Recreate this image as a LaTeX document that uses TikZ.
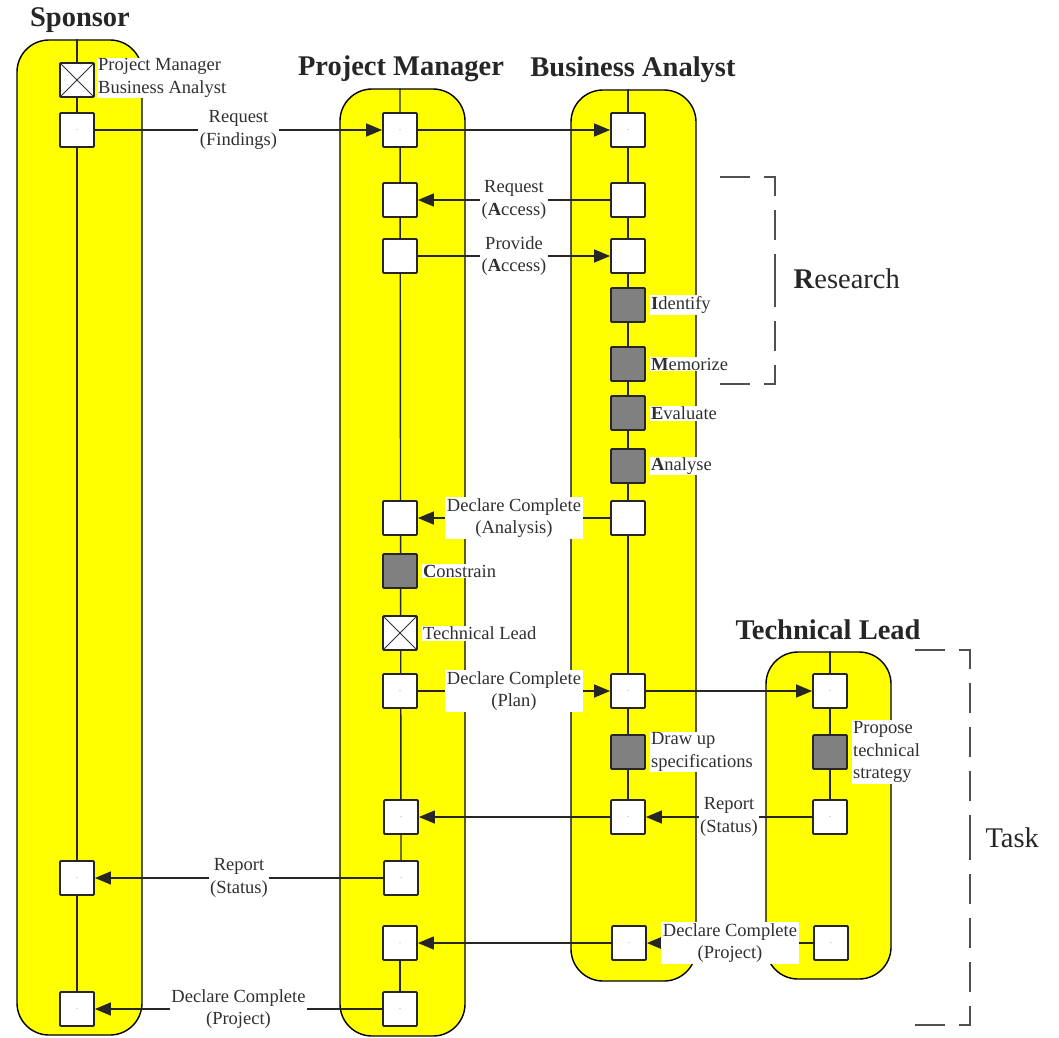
\documentclass[tikz,border=0pt]{standalone}
\usepackage{fontspec}
\setmainfont{Liberation Serif}
\usetikzlibrary{positioning,arrows.meta,backgrounds}
\definecolor{laneYellow}{HTML}{FFFF00}
\definecolor{stepGray}{HTML}{808080}
\definecolor{bracketGray}{HTML}{505050}
\definecolor{inkGray}{HTML}{303030}

\begin{document}
\begin{tikzpicture}[x=1pt, y=-1pt,
    lane/.style={draw=black, fill=laneYellow, line width=1.4pt, rounded corners=32pt, minimum width=125pt, inner sep=0pt},
    msgBox/.style={draw=black!85, fill=white, line width=1.8pt, minimum size=34pt, inner sep=0pt, rounded corners=1pt},
    dotBox/.style={msgBox, font=\fontsize{8}{8}\selectfont, text=gray},
    actBox/.style={msgBox, fill=stepGray},
    refBox/.style={msgBox, path picture={\draw[line width=1pt, black!80] (path picture bounding box.north west) -- (path picture bounding box.south east) (path picture bounding box.south west) -- (path picture bounding box.north east);}},
    life/.style={line width=1.4pt, draw=black!85},
    msg/.style={line width=1.4pt, draw=black!85, -{Triangle[length=16pt, width=13pt]}},
    msgLabel/.style={fill=white, text=inkGray, font=\fontsize{18.5}{22.5}\selectfont, align=center, inner sep=1.5pt},
    sideLabel/.style={fill=white, text=inkGray, font=\fontsize{18.5}{22.5}\selectfont, align=left, inner sep=1pt},
    heading/.style={font=\fontsize{28.5}{32}\selectfont\bfseries, text=black!85},
    phaseLabel/.style={font=\fontsize{28.5}{32}\selectfont, text=black!85, anchor=west},
    bracket/.style={draw=bracketGray, line width=2pt, dash pattern=on 30pt off 14pt}
  ]
  \useasboundingbox (0,0) rectangle (1059,1037);

  % Headings
  \node[heading] (sponsorHead) at (80,20) {Sponsor};
  \node[heading] (pmHead) at (401,69) {Project Manager};
  \node[heading] (baHead) at (633,70) {Business Analyst};
  \node[heading] (tlHead) at (828,630) {Technical Lead};

  % Sponsor
  \node[refBox] (sRef) at (77,80) {};
  \node[dotBox] (sReq) at (77,130) {.};
  \node[dotBox] (sRep) at (77,878) {.};
  \node[dotBox] (sEnd) at (77,1009) {.};

  % Project Manager
  \node[dotBox] (pReq) at (400,130) {.};
  \node[msgBox] (pAcc) at (400,200) {};
  \node[msgBox] (pProv) at (400,256) {};
  \node[msgBox] (pDone) at (400,518) {};
  \node[actBox] (pCons) at (400,571) {};
  \node[refBox] (pRef) at (400,633) {};
  \node[dotBox] (pPlan) at (400,691) {.};
  \node[dotBox] (pRepIn) at (401,817) {.};
  \node[dotBox] (pRepOut) at (401,878) {.};
  \node[dotBox] (pEndIn) at (400,943) {.};
  \node[dotBox] (pEndOut) at (400,1009) {.};

  % Business Analyst
  \node[dotBox] (bReq) at (628,130) {.};
  \node[msgBox] (bAcc) at (628,200) {};
  \node[msgBox] (bProv) at (628,256) {};
  \node[actBox] (bIdent) at (628,305) {};
  \node[actBox] (bMem) at (628,364) {};
  \node[actBox] (bEval) at (628,413) {};
  \node[actBox] (bAna) at (628,466) {};
  \node[msgBox] (bDone) at (628,518) {};
  \node[dotBox] (bPlan) at (628,691) {.};
  \node[actBox] (bSpec) at (628,752) {};
  \node[dotBox] (bRep) at (628,817) {.};
  \node[dotBox] (bEnd) at (629,943) {.};

  % Technical Lead
  \node[dotBox] (tPlan) at (830,691) {.};
  \node[actBox] (tProp) at (830,752) {};
  \node[dotBox] (tRep) at (830,817) {.};
  \node[dotBox] (tEnd) at (831,943) {.};

  % Lanes and lifelines
  \begin{scope}[on background layer]
    \node[lane, minimum height=995pt] (sLane) at (79.5,537.5) {};
    \node[lane, minimum height=947pt] (pLane) at (402.5,562.5) {};
    \node[lane, minimum height=891pt] (bLane) at (633.5,535.5) {};
    \node[lane, minimum height=327pt] (tLane) at (828.5,815.5) {};
    \draw[life] (sLane.north -| sRef) -- (sEnd);
    \draw[life] (pLane.north -| pReq) -- (pRepOut);
    \draw[life] (pEndIn) -- (pEndOut);
    \draw[life] (bLane.north -| bReq) -- (bRep);
    \draw[life] (tLane.north -| tPlan) -- (tRep);
  \end{scope}

  % Side labels
  \node[sideLabel, anchor=west] (refNames) at (97,78) {Project Manager\\Business Analyst};
  \node[sideLabel, right=4pt of bIdent] {\textbf{I}dentify};
  \node[sideLabel, right=4pt of bMem] {\textbf{M}emorize};
  \node[sideLabel, right=4pt of bEval] {\textbf{E}valuate};
  \node[sideLabel, right=4pt of bAna] {\textbf{A}nalyse};
  \node[sideLabel, right=4pt of pCons] {\textbf{C}onstrain};
  \node[sideLabel, right=4pt of pRef] {Technical Lead};
  \node[sideLabel, right=4pt of bSpec] {Draw up\\specifications};
  \node[sideLabel, right=4pt of tProp] {Propose\\technical\\strategy};

  % Messages
  \draw[msg] (sReq) -- node[msgLabel] {Request\\(Findings)} (pReq);
  \draw[msg] (pReq) -- (bReq);
  \draw[msg] (bAcc) -- node[msgLabel] {Request\\(\textbf{A}ccess)} (pAcc);
  \draw[msg] (pProv) -- node[msgLabel] {Provide\\(\textbf{A}ccess)} (bProv);
  \draw[msg] (bDone) -- node[msgLabel] {Declare Complete\\(Analysis)} (pDone);
  \draw[msg] (pPlan) -- node[msgLabel] {Declare Complete\\(Plan)} (bPlan);
  \draw[msg] (bPlan) -- (tPlan);
  \draw[msg] (bRep) -- (pRepIn);
  \draw[msg] (tRep) -- node[msgLabel] {Report\\(Status)} (bRep);
  \draw[msg] (pRepOut) -- node[msgLabel] {Report\\(Status)} (sRep);
  \draw[msg] (bEnd) -- (pEndIn);
  \draw[msg] (tEnd) -- node[msgLabel] {Declare Complete\\(Project)} (bEnd);
  \draw[msg] (pEndOut) -- node[msgLabel] {Declare Complete\\(Project)} (sEnd);

  % Phase brackets (each half starts with a dash at its free end)
  \draw[bracket] (720,177) -- (775,177) -- (775,280);
  \draw[bracket] (720,384) -- (775,384) -- (775,280);
  \node[phaseLabel] (research) at (790,279) {\textbf{R}esearch};
  \draw[bracket] (915,650) -- (970,650) -- (970,838);
  \draw[bracket] (915,1025) -- (970,1025) -- (970,838);
  \node[phaseLabel] (task) at (982,838) {Task};
\end{tikzpicture}
\end{document}
